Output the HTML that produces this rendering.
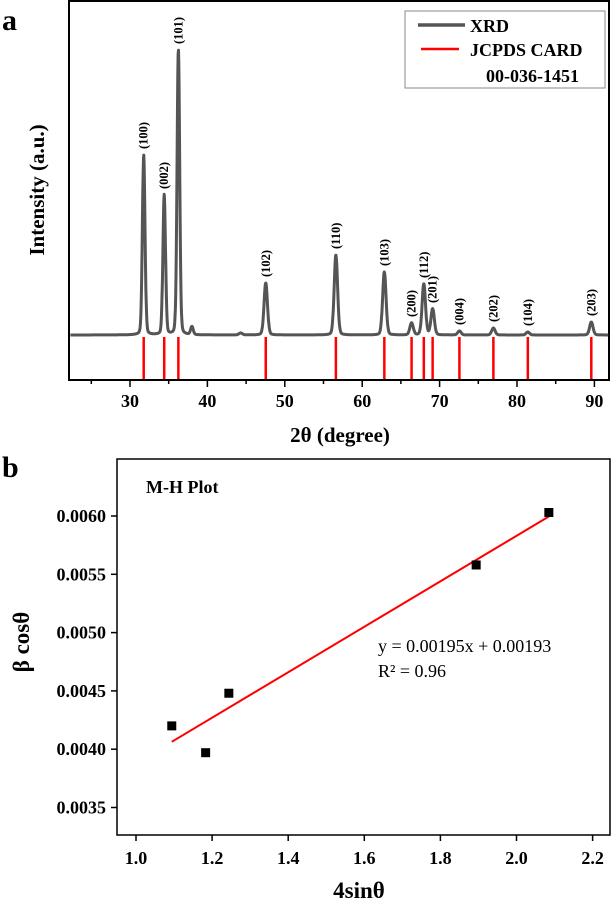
<!DOCTYPE html>
<html><head><meta charset="utf-8">
<style>
body{margin:0;background:#fff;}
svg{display:block;font-family:"Liberation Serif",serif;font-weight:bold;}
</style></head>
<body>
<svg id="c" width="612" height="901" viewBox="0 0 612 901">
<text x="2" y="30" font-size="30">a</text>
<text x="2" y="477" font-size="30">b</text>
<g id="gA"></g>
<g id="gB"></g>
</svg>
<script>
// ---- Panel a data ----
const peakPos=[31.77,34.42,36.25,38.0,44.3,47.54,56.6,62.86,66.38,67.96,69.1,72.56,76.95,81.4,89.6];
const peakHeight=[180,140,285,8,2,52,80,63,12,51,26,4,7,3,13];
const hklLabels=["(100)","(002)","(101)","","","(102)","(110)","(103)","(200)","(112)","(201)","(004)","(202)","(104)","(203)"];
const refPos=[31.77,34.42,36.25,47.54,56.6,62.86,66.38,67.96,69.1,72.56,76.95,81.4,89.6];
const xTicksA=[30,40,50,60,70,80,90];
// ---- Panel b data ----
const mhX=[1.094,1.183,1.244,1.894,2.085];
const mhY=[0.00420,0.00397,0.00448,0.00558,0.00603];
const fitSlope=0.00195, fitIntercept=0.00193;
const xTicksB=[1.0,1.2,1.4,1.6,1.8,2.0,2.2];
const yTicksB=[0.0035,0.0040,0.0045,0.0050,0.0055,0.0060];

const NS="http://www.w3.org/2000/svg";
function mk(parent,tag,attrs,text){const e=document.createElementNS(NS,tag);for(const k in attrs)e.setAttribute(k,attrs[k]);if(text!==undefined)e.textContent=text;parent.appendChild(e);return e;}

// Panel a
const gA=document.getElementById('gA');
const L=69,R=609,T=1,B=380,base=335;
const xA=v=>130+(v-30)*7.74;
const yA=v=>base-v;
let el;
el=mk(gA,'rect',{x:L,y:T,width:R-L,height:B-T,fill:'none',stroke:'#000','stroke-width':2});


for(let v=25;v<=90;v+=5){el=mk(gA,'line',{x1:xA(v),x2:xA(v),y1:B,y2:B+(v%10===0?7:4),stroke:'#000','stroke-width':1.5});

}
xTicksA.forEach(v=>{el=mk(gA,'text',{x:xA(v),y:407,'font-size':18,'text-anchor':'middle'},String(v));

});
el=mk(gA,'text',{x:340,y:442,'font-size':21,'text-anchor':'middle'},'2θ (degree)');


el=mk(gA,'text',{x:0,y:0,'font-size':21,'text-anchor':'middle',transform:'translate(44,190) rotate(-90)'},'Intensity (a.u.)');


// curve
let d='';
for(let v=22.3;v<=91.8;v+=0.04){let s=0;for(let i=0;i<peakPos.length;i++){const w=(peakPos[i]<40?0.2:0.26);const t=(v-peakPos[i])/w;s+=peakHeight[i]*(0.85*Math.exp(-t*t*0.693)+0.15/(1+t*t));}
d+=(d?'L':'M')+xA(v).toFixed(1)+' '+yA(s).toFixed(1);}
el=mk(gA,'path',{d:d,fill:'none',stroke:'#555','stroke-width':3,'stroke-linejoin':'round'});


refPos.forEach(v=>{el=mk(gA,'line',{x1:xA(v),x2:xA(v),y1:337,y2:379,stroke:'#f00','stroke-width':2.5});

});
hklLabels.forEach((s,i)=>{if(!s)return;const px=xA(peakPos[i])+4,py=yA(peakHeight[i])-6;
el=mk(gA,'text',{x:0,y:0,'font-size':12.5,transform:`translate(${px},${py}) rotate(-90)`},s);

});
// legend
el=mk(gA,'rect',{x:405,y:11,width:200,height:77,fill:'#fff',stroke:'#888','stroke-width':1});


el=mk(gA,'line',{x1:418,x2:465,y1:25,y2:25,stroke:'#555','stroke-width':3.5});


el=mk(gA,'text',{x:470,y:32,'font-size':18},'XRD');


el=mk(gA,'line',{x1:421,x2:459,y1:49,y2:49,stroke:'#f00','stroke-width':2.5});


el=mk(gA,'text',{x:470,y:56,'font-size':18},'JCPDS CARD');


el=mk(gA,'text',{x:486,y:82,'font-size':18},'00-036-1451');



// Panel b
const gB=document.getElementById('gB');
const L2=117,R2=610,T2=459,B2=835;
const xB=v=>136+(v-1.0)/0.2*76.1;
const yB=v=>516+(0.006-v)/0.0005*58.3;
el=mk(gB,'rect',{x:L2,y:T2,width:R2-L2,height:B2-T2,fill:'none',stroke:'#000','stroke-width':1.5});


xTicksB.forEach(v=>{el=mk(gB,'line',{x1:xB(v),x2:xB(v),y1:B2,y2:B2+6,stroke:'#000','stroke-width':1.5});


el=mk(gB,'text',{x:xB(v),y:864,'font-size':18,'text-anchor':'middle'},v.toFixed(1));

});
yTicksB.forEach(v=>{el=mk(gB,'line',{x1:L2-6,x2:L2,y1:yB(v),y2:yB(v),stroke:'#000','stroke-width':1.5});


el=mk(gB,'text',{x:106,y:yB(v)+6,'font-size':18,'text-anchor':'end'},v.toFixed(4));

});
el=mk(gB,'text',{x:359,y:898,'font-size':23,'text-anchor':'middle'},'4sinθ');


el=mk(gB,'text',{x:0,y:0,'font-size':23,'text-anchor':'middle',transform:'translate(29,642) rotate(-90)'},'β cosθ');


el=mk(gB,'text',{x:146,y:493,'font-size':18},'M-H Plot');


const x0=mhX[0],x1=mhX[mhX.length-1];
el=mk(gB,'line',{x1:xB(x0),y1:yB(fitSlope*x0+fitIntercept),x2:xB(x1),y2:yB(fitSlope*x1+fitIntercept),stroke:'#f00','stroke-width':2});


mhX.forEach((v,i)=>{el=mk(gB,'rect',{x:xB(v)-4.5,y:yB(mhY[i])-4.5,width:9,height:9,fill:'#000'});

});
el=mk(gB,'text',{x:378,y:652,'font-size':18,'font-weight':'normal'},'y = 0.00195x + 0.00193');


el=mk(gB,'text',{x:378,y:677,'font-size':18,'font-weight':'normal'},'R² = 0.96');


</script>
</body></html>
